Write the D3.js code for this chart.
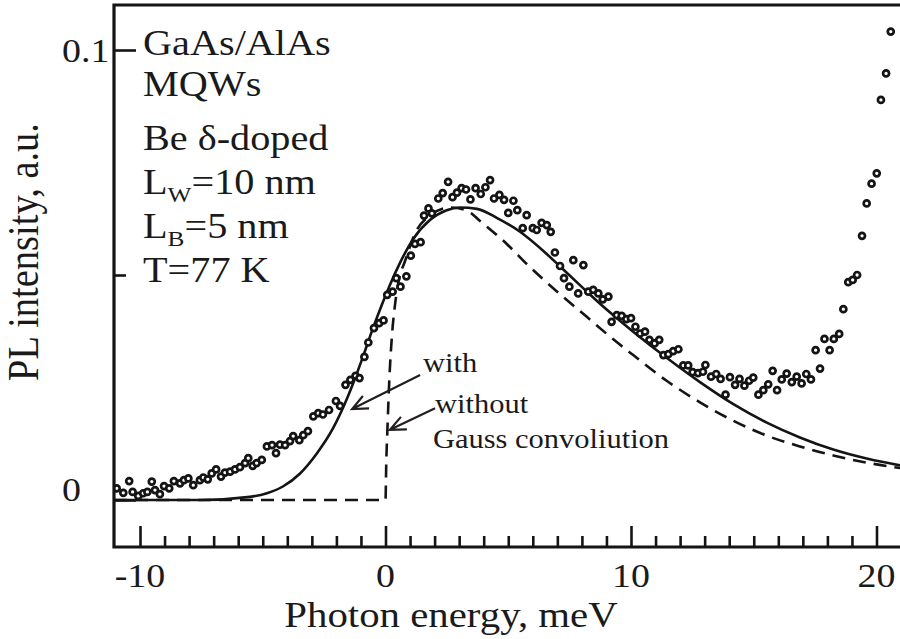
<!DOCTYPE html>
<html><head><meta charset="utf-8">
<script src="https://cdn.jsdelivr.net/npm/d3@7"></script>
<style>
body{margin:0;background:#fff}
svg{display:block}
text{font-family:"Liberation Serif","Times New Roman",serif;fill:#1a1a1a}
</style>
</head><body>
<svg id="c" width="900" height="639"></svg>
<script>
// ---------- data (photon energy in meV, PL intensity in a.u.) ----------
const measured = [
[-10.95,0.0026],[-10.68,0.0016],[-10.44,0.0042],[-10.30,0.0018],[-10.07,0.0009],[-9.87,0.0015],[-9.70,0.0018],[-9.52,0.0041],
[-9.39,0.0022],[-9.19,0.0013],[-9.02,0.0031],[-8.81,0.0026],[-8.62,0.0042],[-8.37,0.0037],[-8.21,0.0044],[-8.03,0.0048],
[-7.83,0.0033],[-7.56,0.0044],[-7.42,0.0050],[-7.24,0.0046],[-7.08,0.0059],[-6.90,0.0068],[-6.70,0.0052],[-6.54,0.0061],
[-6.33,0.0063],[-6.13,0.0068],[-5.93,0.0073],[-5.72,0.0082],[-5.59,0.0093],[-5.41,0.0076],[-5.25,0.0082],[-5.04,0.0089],
[-4.83,0.0119],[-4.62,0.0122],[-4.46,0.0104],[-4.30,0.0123],[-4.09,0.0122],[-3.89,0.0131],[-3.76,0.0142],[-3.51,0.0133],
[-3.35,0.0144],[-3.16,0.0153],[-2.94,0.0186],[-2.74,0.0193],[-2.55,0.0190],[-2.30,0.0200],[-2.02,0.0220],[-1.85,0.0209],
[-1.63,0.0256],[-1.43,0.0267],[-1.22,0.0276],[-1.06,0.0271],[-0.86,0.0318],[-0.70,0.0350],[-0.47,0.0382],[-0.26,0.0393],
[-0.08,0.0399],[0.07,0.0456],[0.29,0.0463],[0.44,0.0493],[0.61,0.0474],[0.85,0.0497],[1.03,0.0543],[1.20,0.0569],
[1.43,0.0573],[1.57,0.0632],[1.75,0.0648],[1.89,0.0637],[2.15,0.0670],[2.33,0.0682],[2.55,0.0707],[2.73,0.0673],
[2.91,0.0683],[3.10,0.0693],[3.28,0.0690],[3.46,0.0668],[3.67,0.0693],[3.88,0.0680],[4.07,0.0695],[4.26,0.0711],
[4.42,0.0670],[4.64,0.0678],[4.83,0.0667],[5.00,0.0638],[5.21,0.0665],[5.37,0.0644],[5.59,0.0604],[5.75,0.0633],
[6.00,0.0604],[6.16,0.0600],[6.36,0.0616],[6.57,0.0611],[6.73,0.0596],[6.90,0.0550],[7.11,0.0520],[7.27,0.0493],
[7.49,0.0474],[7.65,0.0533],[7.85,0.0459],[8.06,0.0522],[8.26,0.0463],[8.46,0.0467],[8.67,0.0459],[8.85,0.0446],
[9.08,0.0452],[9.21,0.0396],[9.42,0.0411],[9.62,0.0409],[9.81,0.0402],[10.00,0.0404],[10.18,0.0385],[10.37,0.0370],
[10.57,0.0374],[10.75,0.0356],[10.96,0.0348],[11.15,0.0356],[11.32,0.0322],[11.52,0.0324],[11.72,0.0331],[11.93,0.0335],
[12.13,0.0299],[12.33,0.0299],[12.51,0.0284],[12.73,0.0282],[12.93,0.0285],[13.03,0.0300],[13.26,0.0274],[13.47,0.0280],
[13.65,0.0269],[13.85,0.0234],[14.03,0.0273],[14.24,0.0256],[14.42,0.0269],[14.62,0.0254],[14.81,0.0265],[14.98,0.0272],
[15.19,0.0234],[15.39,0.0244],[15.59,0.0257],[15.77,0.0287],[15.95,0.0244],[16.14,0.0268],[16.34,0.0281],[16.55,0.0262],
[16.75,0.0274],[16.95,0.0259],[17.14,0.0280],[17.33,0.0268],[17.52,0.0333],[17.70,0.0292],[17.88,0.0358],[18.09,0.0333],
[18.26,0.0358],[18.48,0.0369],[18.65,0.0424],[18.85,0.0484],[19.03,0.0489],[19.21,0.0500],[19.41,0.0587],[19.60,0.0659],
[19.80,0.0703],[20.01,0.0726],[20.18,0.0889],[20.39,0.0948],[20.58,0.1041]
];
const fitWithGauss = [
[-11.06,0],[-7.56,0],[-5.52,0.0007],[-4.83,0.0015],[-4.18,0.0030],[-3.48,0.0059],[-2.79,0.0104],[-2.14,0.0159],
[-1.65,0.0215],[-1.32,0.0259],[-0.92,0.0318],[-0.51,0.0382],[-0.14,0.0435],[0.18,0.0478],[0.59,0.0527],[1.13,0.0580],
[1.81,0.0622],[2.49,0.0644],[3.03,0.0650],[3.73,0.0647],[4.53,0.0627],[5.48,0.0596],[6.50,0.0550],[7.11,0.0519],
[7.93,0.0477],[8.74,0.0436],[10.09,0.0374],[11.45,0.0316],[12.81,0.0262],[14.17,0.0213],[15.53,0.0172],[16.88,0.0139],
[18.24,0.0112],[19.60,0.0092],[20.96,0.0077]
];
const fitWithoutGauss = [
[-11.06,0],[0,0],[0.03,0.008],[0.08,0.016],[0.15,0.026],[0.27,0.037],[0.39,0.0435],[0.55,0.049],[0.79,0.0530],
[1.20,0.0592],[1.81,0.0632],[2.63,0.0650],[3.32,0.0643],[3.85,0.0620],[4.94,0.0569],[5.80,0.0522],[6.97,0.0464],
[8.20,0.0407],[9.28,0.0357],[10.09,0.0322],[11.45,0.0265],[12.81,0.0217],[14.17,0.0176],[15.53,0.0143],[16.88,0.0119],
[18.24,0.0099],[19.60,0.0083],[20.96,0.0071]
];
const xMajorTicks = [-10, 0, 10, 20];
const xTickLabels = ["-10", "0", "10", "20"];
const xMinorTicks = [-9,-8,-7,-6,-5,-4,-3,-2,-1,1,2,3,4,5,6,7,8,9,11,12,13,14,15,16,17,18,19];
const yMajorTicks = [0, 0.1];
const yTickLabels = ["0", "0.1"];
const yMinorTicks = [0.05];
const infoLines = ["GaAs/AlAs", "MQWs", "Be \u03B4-doped", ["L","W","=10 nm"], ["L","B","=5 nm"], "T=77 K"];
const arrowWith = {from:[1.41,0.0278], to:[-1.36,0.0202]};
const arrowWithout = {from:[2.02,0.0204], to:[0.18,0.0156]};

// ---------- layout ----------
const svg = d3.select("#c");
const L = 114, R = 900, T = 5, B = 547;
const SX = 1.15;            // horizontal stretch of the original figure's lettering
const ink = "#141414";
const x = d3.scaleLinear().domain([0, 20]).range([385.5, 876.5]);
const y = d3.scaleLinear().domain([0, 0.1]).range([500, 50]);

svg.append("defs").append("clipPath").attr("id","clip")
  .append("rect").attr("x",L).attr("y",T).attr("width",R-L).attr("height",B-T);

function stext(px, py, str, size, anchor){
  return svg.append("text")
    .attr("transform",`translate(${px},${py}) scale(${SX},1)`)
    .attr("font-size", size).attr("text-anchor", anchor || "start").text(str);
}

// ---------- curves ----------
const line = d3.line().x(d => x(d[0])).y(d => y(d[1])).curve(d3.curveMonotoneX);
const plot = svg.append("g").attr("clip-path","url(#clip)");
plot.append("path").datum(fitWithoutGauss).attr("d", line)
  .attr("fill","none").attr("stroke",ink).attr("stroke-width",2.6).attr("stroke-dasharray","13,8");
plot.append("path").datum(fitWithGauss).attr("d", line)
  .attr("fill","none").attr("stroke",ink).attr("stroke-width",2.6);

// ---------- measured points ----------
plot.selectAll("circle").data(measured).join("circle")
  .attr("cx", d => x(d[0])).attr("cy", d => y(d[1])).attr("r", 3.0)
  .attr("fill","#fff").attr("stroke",ink).attr("stroke-width",2.7);

// ---------- axes ----------
function styleAxis(g){
  g.select(".domain").remove();
  g.selectAll(".tick line").attr("stroke",ink).attr("stroke-width",2.6);
}
svg.append("g").attr("transform",`translate(0,${B})`)
  .call(d3.axisTop(x).tickValues(xMajorTicks).tickSize(21).tickFormat("")).call(styleAxis);
svg.append("g").attr("transform",`translate(0,${B})`)
  .call(d3.axisTop(x).tickValues(xMinorTicks).tickSize(11).tickFormat("")).call(styleAxis);
svg.append("g").attr("transform",`translate(${L},0)`)
  .call(d3.axisRight(y).tickValues(yMajorTicks).tickSize(22).tickFormat("")).call(styleAxis);
svg.append("g").attr("transform",`translate(${L},0)`)
  .call(d3.axisRight(y).tickValues(yMinorTicks).tickSize(12).tickFormat("")).call(styleAxis);

svg.append("path")
  .attr("d",`M${R},${T}H${L}V${B}H${R}`)
  .attr("fill","none").attr("stroke",ink).attr("stroke-width",3.2);

// tick labels
xMajorTicks.forEach((v,i) => stext(x(v), 587, xTickLabels[i], 33, "middle"));
const yLabelShift = [1, 12];
yMajorTicks.forEach((v,i) => stext(62, y(v) + yLabelShift[i], yTickLabels[i], 33, "start"));

// axis titles
stext(451, 627, "Photon energy, meV", 35.5, "middle");
svg.append("text")
  .attr("transform",`translate(38,123) scale(${SX},1) rotate(-90)`)
  .attr("font-size",38.5).attr("text-anchor","end").text("PL intensity, a.u.");

// ---------- sample info ----------
const infoBase = [55, 96, 150, 194, 238, 282];
infoLines.forEach((ln,i) => {
  const t = stext(143, infoBase[i], "", 35, "start");
  if (typeof ln === "string") { t.text(ln); }
  else {
    t.append("tspan").text(ln[0]);
    t.append("tspan").attr("font-size",22).attr("dy",8).text(ln[1]);
    t.append("tspan").attr("dy",-8).text(ln[2]);
  }
});

// ---------- arrows & labels ----------
function arrow(a){
  const x1 = x(a.from[0]), y1 = y(a.from[1]), x2 = x(a.to[0]), y2 = y(a.to[1]);
  const ang = Math.atan2(y1 - y2, x1 - x2), len = 17, spread = 0.42;
  const h1 = [x2 + len*Math.cos(ang+spread), y2 + len*Math.sin(ang+spread)];
  const h2 = [x2 + len*Math.cos(ang-spread), y2 + len*Math.sin(ang-spread)];
  svg.append("path")
    .attr("d",`M${x1},${y1}L${x2},${y2}M${h1[0]},${h1[1]}L${x2},${y2}L${h2[0]},${h2[1]}`)
    .attr("fill","none").attr("stroke","#231f20").attr("stroke-width",2.2);
}
arrow(arrowWith);
arrow(arrowWithout);
stext(423, 372, "with", 26.5, "start");
stext(435, 413, "without", 26.5, "start");
stext(433, 448, "Gauss convoliution", 26.5, "start");
</script>
</body></html>
